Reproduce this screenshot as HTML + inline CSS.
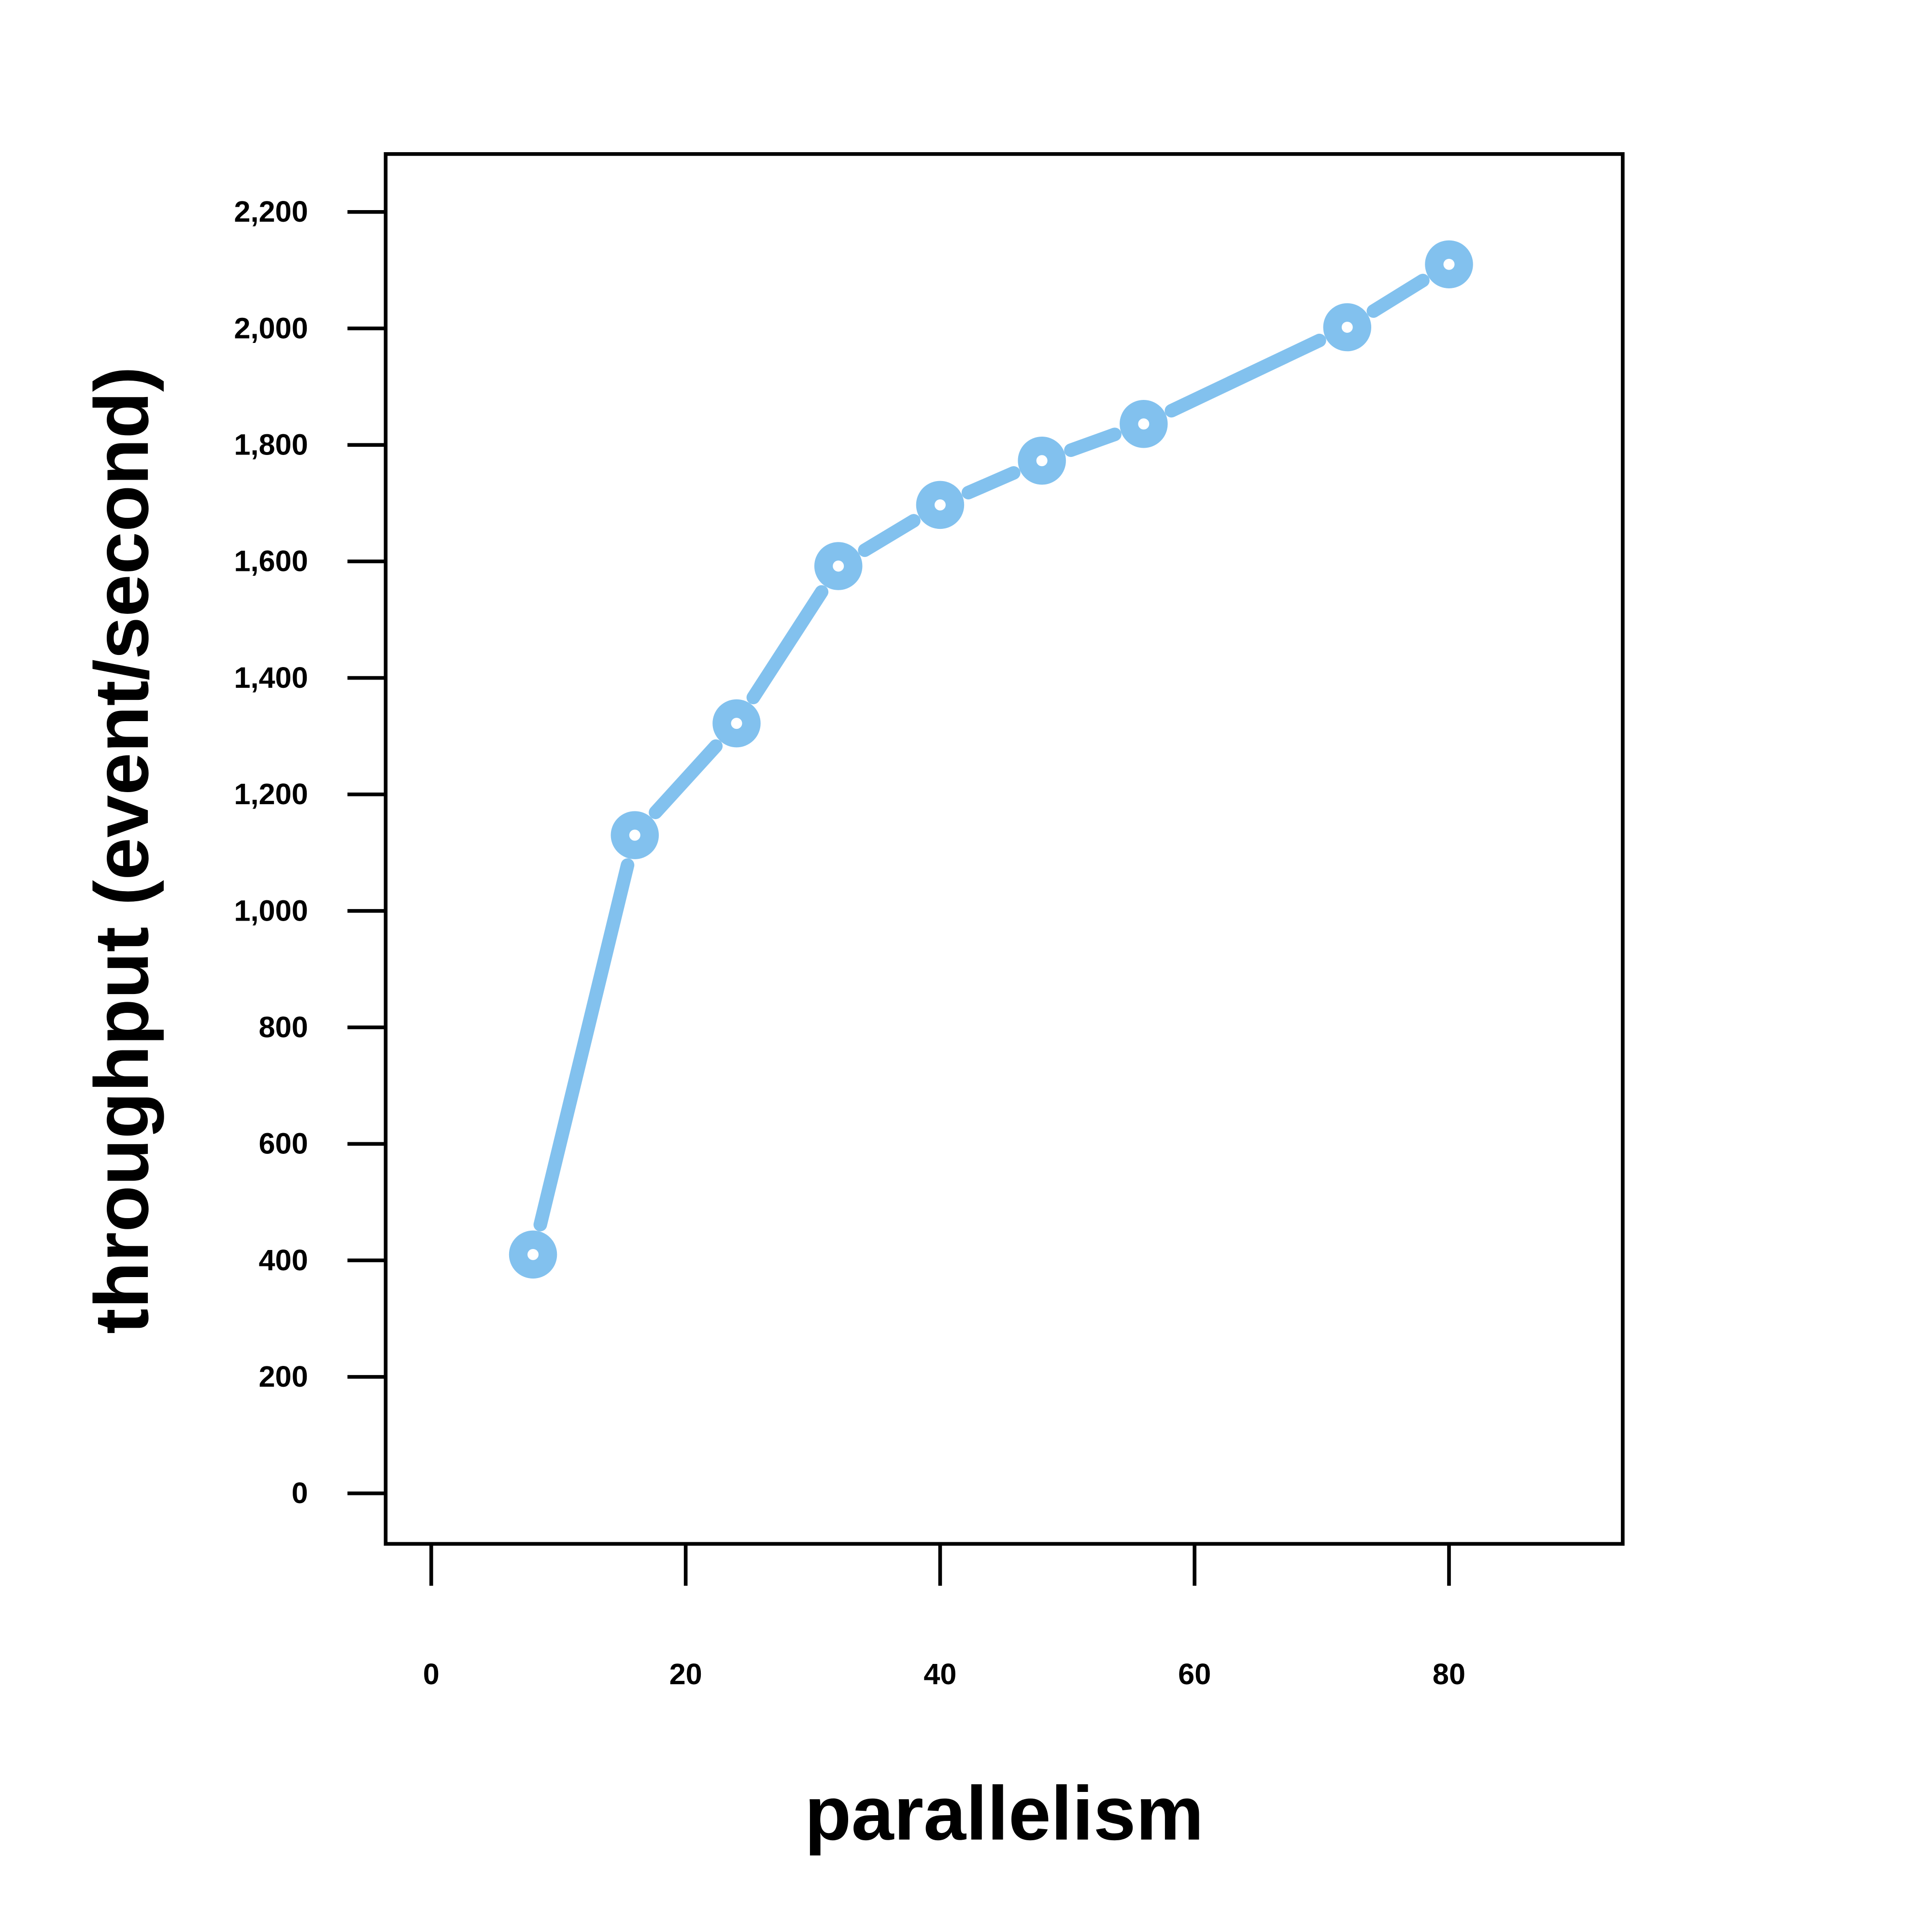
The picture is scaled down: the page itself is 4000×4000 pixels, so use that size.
<!DOCTYPE html>
<html><head><meta charset="utf-8"><style>html,body{margin:0;padding:0;background:#fff}svg{display:block}</style></head>
<body>
<svg id="chart" width="4000" height="4000" viewBox="0 0 1568 1568" xmlns="http://www.w3.org/2000/svg" font-family="Liberation Sans, Arial, sans-serif">
<rect x="0" y="0" width="1568" height="1568" fill="#fff"/>
<rect x="313" y="125" width="1004" height="1128" fill="none" stroke="#000" stroke-width="3"/>
<g id="yaxis"></g>
<g id="xaxis"></g>
<g id="series"></g>
<text transform="translate(120,690) rotate(-90)" text-anchor="middle" font-weight="bold" font-size="62">throughput (event/second)</text>
<text x="815" y="1493" text-anchor="middle" font-weight="bold" font-size="62">parallelism</text>
</svg>
<script>
const parallelism = [8, 16, 24, 32, 40, 48, 56, 72, 80];
const throughput = [410, 1130, 1322, 1592, 1697, 1773, 1836, 2002, 2110];
const yTicks = [0, 200, 400, 600, 800, 1000, 1200, 1400, 1600, 1800, 2000, 2200];
const yTickLabels = ["0","200","400","600","800","1,000","1,200","1,400","1,600","1,800","2,000","2,200"];
const xTicks = [0, 20, 40, 60, 80];
const xTickLabels = ["0","20","40","60","80"];

const NS = "http://www.w3.org/2000/svg";
function sx(v){ return 350 + v * (1176 - 350) / 80; }
function sy(v){ return 1212 - v * (1212 - 172) / 2200; }
function mk(tag, attrs, parent){ const e = document.createElementNS(NS, tag); for (const k in attrs) e.setAttribute(k, attrs[k]); parent.appendChild(e); return e; }

const ya = document.getElementById('yaxis');
yTicks.forEach((v, i) => {
  const t = mk('line', {x1: 282, x2: 313, y1: sy(v), y2: sy(v), stroke: '#000', 'stroke-width': 3}, ya);
  
  
  const l = mk('text', {x: 250, y: sy(v) + 8, 'text-anchor': 'end', 'font-weight': 'bold', 'font-size': 24}, ya);
  l.textContent = yTickLabels[i];
  
  
});
const xa = document.getElementById('xaxis');
xTicks.forEach((v, i) => {
  const t = mk('line', {x1: sx(v), x2: sx(v), y1: 1253, y2: 1287, stroke: '#000', 'stroke-width': 3}, xa);
  
  
  const l = mk('text', {x: sx(v), y: 1367, 'text-anchor': 'middle', 'font-weight': 'bold', 'font-size': 24}, xa);
  l.textContent = xTickLabels[i];
  
  
});

const sg = document.getElementById('series');
const col = '#82c1ee';
const gap = 25;
for (let i = 0; i < parallelism.length - 1; i++) {
  const x1 = sx(parallelism[i]), y1 = sy(throughput[i]);
  const x2 = sx(parallelism[i+1]), y2 = sy(throughput[i+1]);
  const d = Math.hypot(x2 - x1, y2 - y1);
  if (d <= 2 * gap) continue;
  const ux = (x2 - x1) / d, uy = (y2 - y1) / d;
  const s = mk('line', {x1: x1 + ux*gap, y1: y1 + uy*gap, x2: x2 - ux*gap, y2: y2 - uy*gap, stroke: col, 'stroke-width': 11, 'stroke-linecap': 'round'}, sg);
  
  
}
parallelism.forEach((p, i) => {
  const c = mk('circle', {cx: sx(p), cy: sy(throughput[i]), r: 12, fill: 'none', stroke: col, 'stroke-width': 15}, sg);
  
  
});
</script>
</body></html>
